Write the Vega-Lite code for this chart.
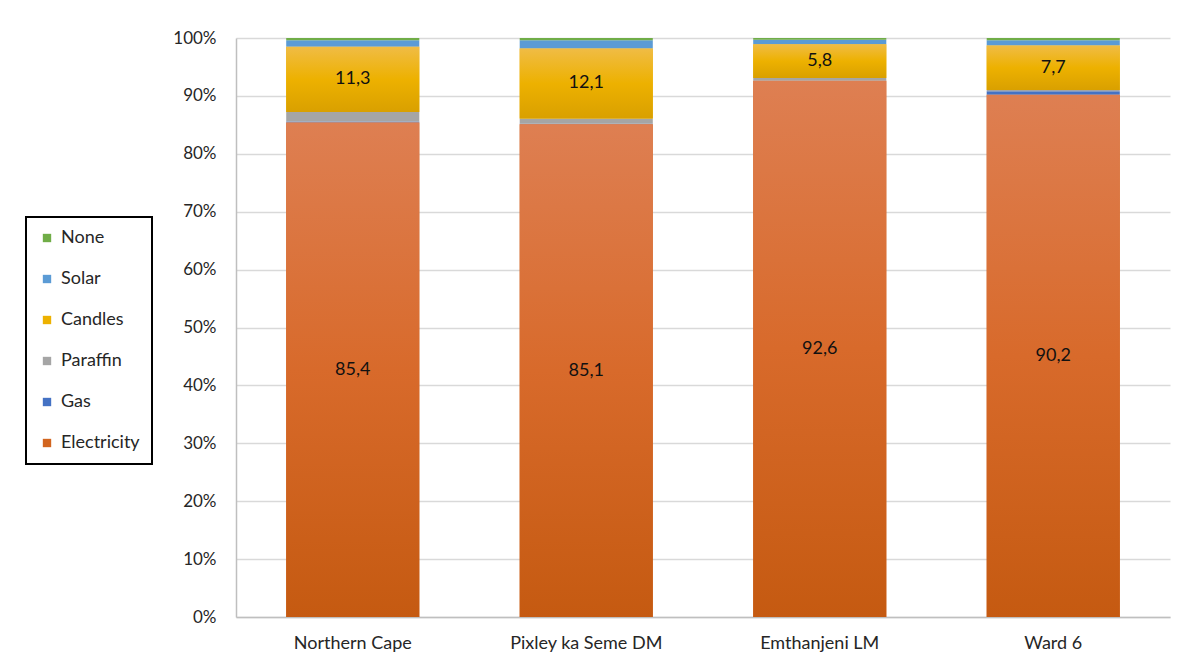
{
  "$schema": "https://vega.github.io/schema/vega-lite/v6.json",
  "width": 934,
  "height": 579,
  "autosize": {"type": "none"},
  "padding": {"left": 236, "top": 38, "right": 17, "bottom": 51},
  "background": "white",
  "config": {
    "view": {"stroke": null},
    "font": "Lato",
    "axis": {"labelFont": "Lato", "labelColor": "#404040", "labelFontSize": 16},
    "legend": {"strokeColor": "black", "strokeWidth": 2}
  },
  "data": {
    "values": [
      {"region": "Northern Cape", "source": "Electricity", "value": 85.4, "order": 1},
      {"region": "Northern Cape", "source": "Gas", "value": 0.2, "order": 2},
      {"region": "Northern Cape", "source": "Paraffin", "value": 1.6, "order": 3},
      {"region": "Northern Cape", "source": "Candles", "value": 11.3, "order": 4},
      {"region": "Northern Cape", "source": "Solar", "value": 1.1, "order": 5},
      {"region": "Northern Cape", "source": "None", "value": 0.4, "order": 6},
      {"region": "Pixley ka Seme DM", "source": "Electricity", "value": 85.1, "order": 1},
      {"region": "Pixley ka Seme DM", "source": "Gas", "value": 0.1, "order": 2},
      {"region": "Pixley ka Seme DM", "source": "Paraffin", "value": 0.9, "order": 3},
      {"region": "Pixley ka Seme DM", "source": "Candles", "value": 12.1, "order": 4},
      {"region": "Pixley ka Seme DM", "source": "Solar", "value": 1.4, "order": 5},
      {"region": "Pixley ka Seme DM", "source": "None", "value": 0.4, "order": 6},
      {"region": "Emthanjeni LM", "source": "Electricity", "value": 92.6, "order": 1},
      {"region": "Emthanjeni LM", "source": "Gas", "value": 0.0, "order": 2},
      {"region": "Emthanjeni LM", "source": "Paraffin", "value": 0.5, "order": 3},
      {"region": "Emthanjeni LM", "source": "Candles", "value": 5.8, "order": 4},
      {"region": "Emthanjeni LM", "source": "Solar", "value": 0.8, "order": 5},
      {"region": "Emthanjeni LM", "source": "None", "value": 0.3, "order": 6},
      {"region": "Ward 6", "source": "Electricity", "value": 90.2, "order": 1},
      {"region": "Ward 6", "source": "Gas", "value": 0.6, "order": 2},
      {"region": "Ward 6", "source": "Paraffin", "value": 0.2, "order": 3},
      {"region": "Ward 6", "source": "Candles", "value": 7.7, "order": 4},
      {"region": "Ward 6", "source": "Solar", "value": 0.9, "order": 5},
      {"region": "Ward 6", "source": "None", "value": 0.4, "order": 6}
    ]
  },
  "transform": [
    {"stack": "value", "groupby": ["region"], "sort": [{"field": "order", "order": "ascending"}], "as": ["v0", "v1"]},
    {"calculate": "(datum.v0 + datum.v1) / 2", "as": "mid"},
    {"calculate": "replace(format(datum.value, '.1f'), '.', ',')", "as": "label"}
  ],
  "encoding": {
    "x": {
      "field": "region",
      "type": "nominal",
      "sort": ["Northern Cape", "Pixley ka Seme DM", "Emthanjeni LM", "Ward 6"],
      "scale": {"paddingInner": 0.43, "paddingOuter": 0.215},
      "axis": {"title": null, "labelAngle": 0, "ticks": false, "domainColor": "#BFBFBF", "domainWidth": 1.5, "labelPadding": 17, "labelFontSize": 18, "labelColor": "#262626"}
    }
  },
  "layer": [
    {
      "mark": {"type": "bar"},
      "encoding": {
        "y": {
          "field": "v1",
          "type": "quantitative",
          "scale": {"domain": [0, 100], "nice": false},
          "axis": {
            "title": null,
            "values": [0, 10, 20, 30, 40, 50, 60, 70, 80, 90, 100],
            "labelExpr": "datum.value + '%'",
            "ticks": false,
            "domainColor": "#BFBFBF",
            "domainWidth": 1.5,
            "gridColor": "#D9D9D9",
            "gridWidth": 1.5,
            "labelPadding": 20,
            "labelFontSize": 17,
            "labelColor": "#262626"
          }
        },
        "y2": {"field": "v0"},
        "color": {
          "field": "source",
          "type": "nominal",
          "scale": {
            "domain": ["None", "Solar", "Candles", "Paraffin", "Gas", "Electricity"],
            "range": ["#70AD47", "#5B9BD5", "#EDB100", "#A5A5A5", "#4472C4", "#D2651F"]
          },
          "legend": {
            "title": null,
            "orient": "none",
            "legendX": -210,
            "legendY": 179,
            "fillColor": "white",
            "padding": 12,
            "symbolType": "square",
            "symbolSize": 70,
            "symbolStrokeWidth": 0,
            "labelFont": "Lato",
            "labelFontSize": 18,
            "labelColor": "#262626",
            "rowPadding": 23,
            "labelOffset": 5
          }
        }
      }
    },
    {
      "transform": [{"filter": "datum.source === 'Electricity'"}],
      "mark": {
        "type": "bar",
        "color": {
          "gradient": "linear",
          "x1": 0, "y1": 0, "x2": 0, "y2": 1,
          "stops": [
            {"offset": 0, "color": "#DE7F52"},
            {"offset": 0.5, "color": "#D86A2B"},
            {"offset": 1, "color": "#C55A11"}
          ]
        }
      },
      "encoding": {
        "y": {"field": "v1", "type": "quantitative"},
        "y2": {"field": "v0"}
      }
    },
    {
      "transform": [{"filter": "datum.source === 'Candles'"}],
      "mark": {
        "type": "bar",
        "color": {
          "gradient": "linear",
          "x1": 0, "y1": 0, "x2": 0, "y2": 1,
          "stops": [
            {"offset": 0, "color": "#F0BC45"},
            {"offset": 0.5, "color": "#EDB100"},
            {"offset": 1, "color": "#D9A000"}
          ]
        }
      },
      "encoding": {
        "y": {"field": "v1", "type": "quantitative"},
        "y2": {"field": "v0"}
      }
    },
    {
      "transform": [{"filter": "datum.source === 'Electricity' || datum.source === 'Candles'"}],
      "mark": {"type": "text", "font": "Lato", "fontSize": 18, "color": "#111111", "baseline": "middle"},
      "encoding": {
        "y": {"field": "mid", "type": "quantitative"},
        "text": {"field": "label", "type": "nominal"}
      }
    }
  ]
}
